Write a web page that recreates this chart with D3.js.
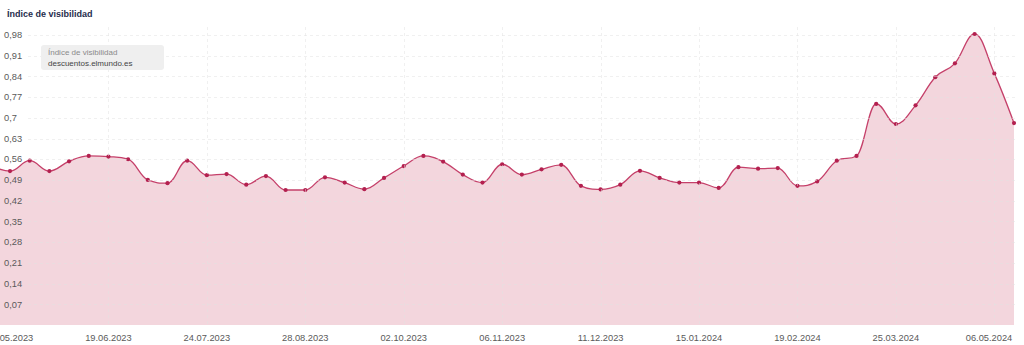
<!DOCTYPE html>
<html>
<head>
<meta charset="utf-8">
<script src="https://cdn.jsdelivr.net/npm/d3@7"></script>
<style>
  html, body { margin: 0; padding: 0; background: #ffffff; }
  svg { display: block; font-family: "Liberation Sans", Arial, sans-serif; }
</style>
</head>
<body>
<svg id="chart" width="1024" height="345"></svg>
<script>
// ---- data ----
const chartTitle = "Índice de visibilidad";
const seriesName = "Índice de visibilidad";
const domainName = "descuentos.elmundo.es";
// weekly points; index -1 is the point just before the visible range
const pointIndex = d3.range(-1, 52);
const visibility = [
  0.540,
  0.520, 0.555, 0.520, 0.553, 0.571, 0.569, 0.560, 0.490, 0.479, 0.555,
  0.506, 0.510, 0.474, 0.503, 0.456, 0.456, 0.499, 0.481, 0.459, 0.497,
  0.537, 0.571, 0.552, 0.508, 0.481, 0.543, 0.508, 0.526, 0.541, 0.470,
  0.458, 0.474, 0.521, 0.497, 0.481, 0.481, 0.463, 0.533, 0.528, 0.530,
  0.470, 0.485, 0.555, 0.571, 0.747, 0.679, 0.742, 0.837, 0.884, 0.983,
  0.850, 0.682
];
const tickIndex = [0, 5, 10, 15, 20, 25, 30, 35, 40, 45, 50];
const tickLabels = ["15.05.2023", "19.06.2023", "24.07.2023", "28.08.2023", "02.10.2023",
  "06.11.2023", "11.12.2023", "15.01.2024", "19.02.2024", "25.03.2024", "06.05.2024"];
const yTicks = [0.07, 0.14, 0.21, 0.28, 0.35, 0.42, 0.49, 0.56, 0.63, 0.70, 0.77, 0.84, 0.91, 0.98];

// ---- spline curve (smoothing like a typical charting spline) ----
function SplineCurve(context) { this._context = context; }
SplineCurve.prototype = {
  areaStart() { this._line = 0; },
  areaEnd() { this._line = NaN; },
  lineStart() { this._pts = []; },
  point(px, py) { this._pts.push([+px, +py]); },
  lineEnd() {
    const p = this._pts, n = p.length, c = this._context;
    if (!n) return;
    const sm = 1.5, den = 2.5;
    const L = [], R = [];
    for (let i = 0; i < n; i++) {
      const [x0, y0] = p[i];
      if (i === 0 || i === n - 1) { L.push([x0, y0]); R.push([x0, y0]); continue; }
      const [lx, ly] = p[i - 1], [nx, ny] = p[i + 1];
      let lcx = (sm * x0 + lx) / den, lcy = (sm * y0 + ly) / den;
      let rcx = (sm * x0 + nx) / den, rcy = (sm * y0 + ny) / den;
      let corr = 0;
      if (rcx !== lcx) corr = ((rcy - lcy) * (rcx - x0)) / (rcx - lcx) + y0 - rcy;
      lcy += corr; rcy += corr;
      if (lcy > ly && lcy > y0) { lcy = Math.max(ly, y0); rcy = 2 * y0 - lcy; }
      else if (lcy < ly && lcy < y0) { lcy = Math.min(ly, y0); rcy = 2 * y0 - lcy; }
      if (rcy > ny && rcy > y0) { rcy = Math.max(ny, y0); lcy = 2 * y0 - rcy; }
      else if (rcy < ny && rcy < y0) { rcy = Math.min(ny, y0); lcy = 2 * y0 - rcy; }
      L.push([lcx, lcy]); R.push([rcx, rcy]);
    }
    if (this._line) c.lineTo(p[0][0], p[0][1]); else c.moveTo(p[0][0], p[0][1]);
    for (let i = 1; i < n; i++) {
      c.bezierCurveTo(R[i - 1][0], R[i - 1][1], L[i][0], L[i][1], p[i][0], p[i][1]);
    }
  }
};
const curveSpline = ctx => new SplineCurve(ctx);

// ---- layout ----
const plotLeft = 0, plotRight = 1017, plotTop = 27, plotBottom = 325;

const svg = d3.select("#chart");
const x = d3.scaleLinear().domain([0, 51]).range([10, 1014]);
const y = d3.scaleLinear().domain([0, 1.0067]).range([plotBottom, plotTop]);

const data = pointIndex.map((i, k) => ({ i, v: visibility[k] }));

svg.append("defs").append("clipPath").attr("id", "plotclip")
  .append("rect").attr("x", plotLeft).attr("y", 0)
  .attr("width", plotRight - plotLeft).attr("height", plotBottom);

const line = d3.line().x(d => x(d.i)).y(d => y(d.v)).curve(curveSpline);
const first = data[0], last = data[data.length - 1];
const areaPath = line(data) + `L${x(last.i)},${y(0)}L${x(first.i)},${y(0)}Z`;

const g = svg.append("g").attr("clip-path", "url(#plotclip)");
g.append("path").attr("d", areaPath).attr("fill", "#f3d6dd");

// grid lines
const fmt = v => d3.format(".2~f")(v).replace(".", ",");
const grid = svg.append("g");
grid.selectAll("line.h").data(yTicks).join("line")
  .attr("x1", 28).attr("x2", plotRight)
  .attr("y1", d => Math.round(y(d)) + 0.5).attr("y2", d => Math.round(y(d)) + 0.5)
  .attr("stroke", "#e2e2e2").attr("stroke-opacity", 0.5)
  .attr("stroke-dasharray", "3,3");
grid.selectAll("line.v").data(tickIndex.slice(1)).join("line")
  .attr("x1", d => Math.round(x(d)) + 0.5).attr("x2", d => Math.round(x(d)) + 0.5)
  .attr("y1", plotTop).attr("y2", plotBottom)
  .attr("stroke", "#e2e2e2").attr("stroke-opacity", 0.5)
  .attr("stroke-dasharray", "3,3");

g.append("path").attr("d", line(data))
  .attr("fill", "none").attr("stroke", "#c5406a").attr("stroke-width", 1.3);
g.selectAll("circle").data(data).join("circle")
  .attr("cx", d => x(d.i)).attr("cy", d => y(d.v)).attr("r", 2.1)
  .attr("fill", "#b3204f");

// y axis labels
svg.append("g").selectAll("text").data(yTicks).join("text")
  .attr("x", 4).attr("y", d => y(d)).attr("dy", "0.35em")
  .attr("font-size", 9.3).attr("fill", "#5a5a5a")
  .text(fmt);

// x axis labels
svg.append("g").selectAll("text").data(tickIndex).join("text")
  .attr("x", d => Math.min(x(d), 989))
  .attr("y", 340.5)
  .attr("text-anchor", "middle")
  .attr("font-size", 9.3).attr("fill", "#5a5a5a")
  .text((d, k) => tickLabels[k]);

// title
svg.append("text").attr("x", 7).attr("y", 16.5)
  .attr("font-size", 9).attr("font-weight", "bold").attr("fill", "#1f2d4d")
  .text(chartTitle);

// legend box
const lg = svg.append("g");
lg.append("rect").attr("x", 41).attr("y", 45).attr("width", 123).attr("height", 25)
  .attr("rx", 3).attr("fill", "#efefef");
lg.append("text").attr("x", 48).attr("y", 55).attr("font-size", 8).attr("fill", "#8a8a8a")
  .text(seriesName);
lg.append("text").attr("x", 48).attr("y", 65.5).attr("font-size", 8).attr("fill", "#444")
  .text(domainName);
</script>
</body>
</html>
